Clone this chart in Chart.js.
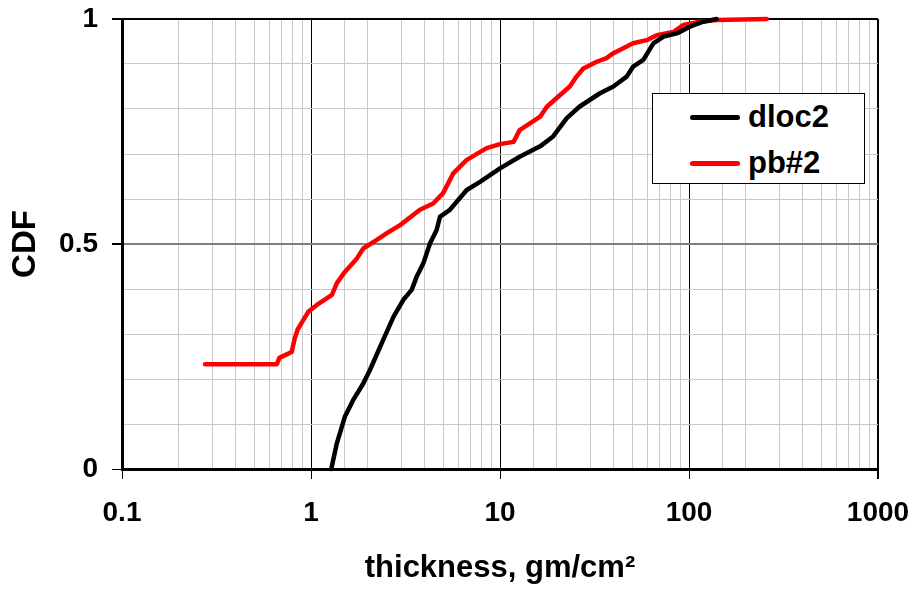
<!DOCTYPE html>
<html>
<head>
<meta charset="utf-8">
<script src="https://cdn.jsdelivr.net/npm/chart.js@4"></script>
<style>
  body { margin: 0; background: #fff; }
  #wrap { position: relative; width: 915px; height: 590px; }
  #legend {
    position: absolute; left: 652px; top: 93px; width: 211px; height: 89px;
    border: 1px solid #000; background: #fff;
    font-family: "Liberation Sans", Arial, sans-serif; font-weight: bold; font-size: 31px;
  }
  .item { position: absolute; left: 37px; height: 30px; display: flex; align-items: center; }
  .swatch { width: 50px; height: 5px; border-radius: 3px; margin-right: 8px; }
</style>
</head>
<body>
<div id="wrap">
  <canvas id="cdfChart"></canvas>
  <div id="legend"></div>
</div>
<script>
const FONT = '"Liberation Sans", Arial, sans-serif';

// dloc2 thickness / CDF pairs
const dloc2X = [1.28, 1.37, 1.51, 1.67, 1.89, 2.05, 2.41, 2.73, 3.08, 3.41, 3.62, 3.93, 4.26, 4.62,
  4.82, 5.43, 6.67, 7.84, 10, 12.7, 16.3, 19.1, 22.5, 26.3, 33.8, 39.8, 46.8, 50.6, 57.3, 64.8,
  73.3, 86.2, 101, 119, 140];
const dloc2Y = [0, 0.057, 0.116, 0.153, 0.19, 0.22, 0.287, 0.338, 0.376, 0.398, 0.427, 0.457, 0.501, 0.531,
  0.561, 0.576, 0.62, 0.638, 0.668, 0.694, 0.717, 0.739, 0.779, 0.805, 0.835, 0.85, 0.872, 0.894, 0.909, 0.946,
  0.961, 0.968, 0.983, 0.994, 1.0];

// pb#2 thickness / CDF pairs
const pb2X = [0.275, 0.66, 0.68, 0.72, 0.79, 0.82, 0.85, 0.91, 0.97, 1.07, 1.21, 1.29, 1.37, 1.51,
  1.75, 1.89, 2.23, 2.52, 2.96, 3.77, 4.43, 5.0, 5.66, 6.67, 8.5, 10, 11.8, 12.7, 14.4, 16.3,
  17.7, 20.8, 23.4, 25.4, 27.6, 32.5, 36.6, 39.8, 50.6, 59.7, 67.5, 82.6, 93.5, 114, 140, 258];
const pb2Y = [0.233, 0.233, 0.247, 0.252, 0.26, 0.29, 0.31, 0.331, 0.35, 0.364, 0.379, 0.387, 0.413, 0.438,
  0.468, 0.49, 0.509, 0.524, 0.542, 0.576, 0.59, 0.613, 0.657, 0.687, 0.713, 0.722, 0.727, 0.753, 0.768, 0.783,
  0.805, 0.831, 0.85, 0.872, 0.89, 0.905, 0.913, 0.924, 0.946, 0.953, 0.964, 0.971, 0.987, 0.994, 0.998, 1.0];

const xLabels = [0.1, 1, 10, 100, 1000];
const yLabels = [0, 0.5, 1];

function toPoints(xs, ys) {
  return xs.map((x, i) => ({ x: x, y: ys[i] }));
}

function isDecade(v) {
  const l = Math.log10(v);
  return Math.abs(l - Math.round(l)) < 1e-6;
}

function isYLabel(v) {
  return yLabels.some(t => Math.abs(t - v) < 1e-6);
}

const ctx = document.getElementById("cdfChart").getContext("2d");
const chart = new Chart(ctx, {
  type: "line",
  data: {
    datasets: [
      {
        label: "dloc2",
        data: toPoints(dloc2X, dloc2Y),
        borderColor: "#000000",
        borderWidth: 4.5,
        pointRadius: 0,
        tension: 0,
        borderCapStyle: "round",
        borderJoinStyle: "round",
        clip: false,
      },
      {
        label: "pb#2",
        data: toPoints(pb2X, pb2Y),
        borderColor: "#ff0000",
        borderWidth: 4.5,
        pointRadius: 0,
        tension: 0,
        borderCapStyle: "round",
        borderJoinStyle: "round",
        clip: false,
      },
    ],
  },
  options: {
    responsive: true,
    maintainAspectRatio: false,
    animation: false,
    layout: { padding: { top: 19, right: 37, left: 0, bottom: 0 } },
    plugins: { legend: { display: false }, tooltip: { enabled: false } },
    scales: {
      x: {
        type: "logarithmic",
        min: 0.1,
        max: 1000,
        afterFit: (s) => { s.height = 121; s.paddingLeft = 0; s.paddingRight = 0; },
        border: { color: "#000", width: 3 },
        grid: {
          color: (c) => (c.tick && isDecade(c.tick.value) ? "#000" : "#c8c8c8"),
          lineWidth: (c) => (c.tick && c.tick.value >= 999 ? 2 : 1),
          tickLength: 10,
          tickColor: (c) => (c.tick && isDecade(c.tick.value) ? "#000" : "rgba(0,0,0,0)"),
        },
        ticks: {
          autoSkip: false,
          maxRotation: 0,
          padding: 17,
          color: "#000",
          font: { family: FONT, size: 28, weight: "bold" },
          callback: (v) => (xLabels.some(t => Math.abs(t - v) < 1e-9) ? String(v) : ""),
        },
        title: {
          display: true,
          text: "thickness, gm/cm²",
          color: "#000",
          font: { family: FONT, size: 31, weight: "bold" },
          padding: { top: 0, bottom: 3 },
        },
      },
      y: {
        min: 0,
        max: 1,
        afterFit: (s) => { s.width = 122; s.paddingTop = 0; s.paddingBottom = 0; },
        border: { color: "#000", width: 3 },
        grid: {
          color: (c) => {
            const v = c.tick ? c.tick.value : 0;
            if (Math.abs(v - 1) < 1e-6) return "#000";
            if (Math.abs(v - 0.5) < 1e-6) return "#7f7f7f";
            return "#c8c8c8";
          },
          lineWidth: (c) => (c.tick && (Math.abs(c.tick.value - 1) < 1e-6 || Math.abs(c.tick.value - 0.5) < 1e-6) ? 2 : 1),
          tickLength: 10,
          tickColor: (c) => (c.tick && isYLabel(c.tick.value) ? "#000" : "rgba(0,0,0,0)"),
        },
        ticks: {
          stepSize: 0.1,
          autoSkip: false,
          padding: 14,
          color: "#000",
          font: { family: FONT, size: 28, weight: "bold" },
          callback: (v) => (isYLabel(v) ? String(Math.round(v * 10) / 10) : ""),
        },
        title: {
          display: true,
          text: "CDF",
          color: "#000",
          font: { family: FONT, size: 33, weight: "bold" },
          padding: { top: 6, bottom: 0 },
        },
      },
    },
  },
});

// legend built from the chart's datasets
const legend = document.getElementById("legend");
chart.data.datasets.forEach((ds, i) => {
  const item = document.createElement("div");
  item.className = "item";
  item.style.top = (8 + i * 46) + "px";
  item.innerHTML = `<span class="swatch" style="background:${ds.borderColor}"></span>${ds.label}`;
  legend.appendChild(item);
});
</script>
</body>
</html>
